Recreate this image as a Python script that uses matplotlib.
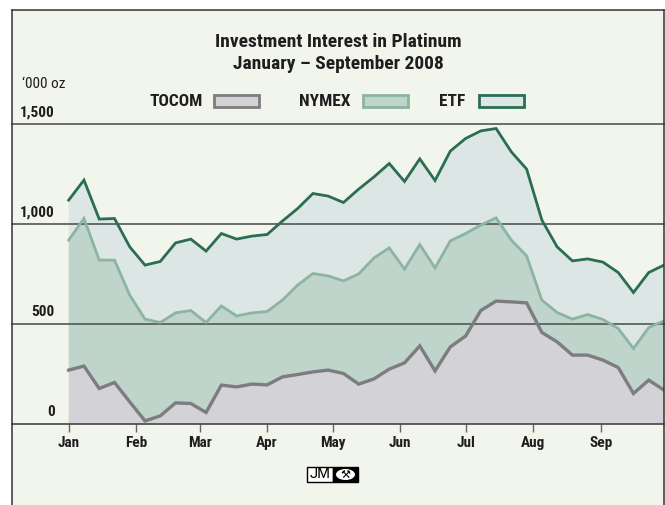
import matplotlib
matplotlib.use("Agg")
import matplotlib.pyplot as plt
import matplotlib.dates as mdates
from matplotlib import font_manager
from matplotlib.patches import Rectangle, Ellipse
from matplotlib.lines import Line2D
import numpy as np
import pandas as pd

# ---------------- data ('000 oz, weekly) ----------------
dates = pd.date_range("2008-01-01", periods=40, freq="7D")
tocom = [267, 287, 175, 205, 108, 13, 38, 103, 100, 55,
         192, 183, 197, 193, 233, 245, 258, 267, 250, 197,
         223, 272, 303, 388, 263, 383, 437, 565, 612, 608,
         603, 455, 408, 342, 342, 317, 280, 150, 217, 167]
nymex = [650, 738, 642, 612, 534, 509, 467, 450, 465, 450,
         396, 355, 356, 367, 384, 447, 492, 471, 463, 551,
         605, 606, 469, 507, 515, 530, 513, 427, 416, 309,
         235, 162, 147, 180, 203, 203, 195, 225, 263, 346]
etf = [200, 192, 205, 208, 241, 270, 305, 350, 357, 357,
       362, 384, 384, 385, 395, 383, 400, 399, 392, 424,
       405, 422, 438, 428, 437, 449, 475, 471, 447, 441,
       434, 400, 328, 291, 278, 287, 280, 280, 275, 279]
series_names = ["TOCOM", "NYMEX", "ETF"]
month_labels = ["Jan", "Feb", "Mar", "Apr", "May", "Jun", "Jul", "Aug", "Sep"]
y_ticks = [0, 500, 1000, 1500]
y_ticklabels = ["0", "500", "1,000", "1,500"]

# ---------------- style ----------------
avail = {f.name for f in font_manager.fontManager.ttflist}
FONT = "DejaVu Sans"
for cand in ["Roboto Condensed", "Archivo Narrow", "Fira Sans Condensed", "Barlow Semi Condensed",
             "PT Sans Narrow", "Liberation Sans Narrow", "Open Sans Condensed", "Asap Condensed"]:
    if cand in avail:
        FONT = cand
        break
plt.rcParams["font.family"] = [FONT, "DejaVu Sans"]

BG = "#f2f5ec"
fills = ["#d3d3d7", "#bfd4ca", "#dce7e5"]
lines = ["#7d7d7f", "#8cb4a2", "#2b6d54"]
lws = [2.4, 2.0, 2.0]
GRID = "#555555"
TXT = "#1e1e1e"

W, H = 665, 505
fig = plt.figure(figsize=(W / 100, H / 100), dpi=100)
fig.patch.set_facecolor("white")

def fx(px):
    return px / W

def fy(py):
    return 1 - py / H

# panel background and border
fig.patches.append(Rectangle((fx(12), 0), fx(664) - fx(12), fy(10), transform=fig.transFigure,
                             facecolor=BG, edgecolor="none", zorder=-10))
for (x0, y0, x1, y1) in [(12, 10, 664, 10), (12, 10, 12, 505), (664, 10, 664, 505)]:
    fig.lines.append(Line2D([fx(x0), fx(x1)], [fy(y0), fy(y1)], transform=fig.transFigure,
                            color="#333333", lw=1.1, zorder=5))

x_left, x_right, y0_px, y1500_px = 12, 664, 423.5, 123.5
ax = fig.add_axes([fx(x_left), fy(y0_px), fx(x_right) - fx(x_left), (y0_px - y1500_px) / H])
ax.set_facecolor("none")
ax.set_zorder(1)

xd = mdates.date2num(dates)
jan1 = mdates.date2num(pd.Timestamp("2008-01-01"))
px_per_day = (664 - 68.7) / 273.0
ax.set_xlim(jan1 - (68.7 - x_left) / px_per_day, jan1 + (x_right - 68.7) / px_per_day)
ax.set_ylim(0, 1500)

vals = [np.array(tocom), np.array(nymex), np.array(etf)]
cum = np.cumsum(vals, axis=0)
ax.stackplot(xd, *vals, colors=fills, linewidth=0, zorder=1)

# gridlines
for yv in y_ticks:
    ax.axhline(yv, color=GRID if yv else "#444444", lw=1.2, zorder=2, clip_on=False)

for i in range(3):
    ax.plot(xd, cum[i], color=lines[i], lw=lws[i], solid_joinstyle="miter", zorder=3)

for s in ax.spines.values():
    s.set_visible(False)

# y labels
ax.set_yticks([])
for yv, lab in zip(y_ticks, y_ticklabels):
    fig.text(fx(55), fy(y0_px - yv * 0.2 - 4), lab, ha="right", va="bottom",
             fontsize=11, fontweight="bold", color=TXT)
fig.text(fx(22), fy(84), "\u2018000 oz", ha="left", va="center", fontsize=11, color=TXT)

# x ticks
month_pos = [mdates.date2num(pd.Timestamp(2008, m, 1)) for m in range(1, 10)]
ax.set_xticks(month_pos)
ax.set_xticklabels(month_labels, fontsize=11, fontweight="bold", color=TXT)
ax.tick_params(axis="x", length=6, width=1.0, color="#666666", pad=3)

# title
fig.text(fx(338), fy(42), "Investment Interest in Platinum", ha="center", va="center",
         fontsize=14, fontweight="bold", color=TXT)
fig.text(fx(338), fy(64), "January \u2013 September 2008", ha="center", va="center",
         fontsize=14, fontweight="bold", color=TXT)

# legend
leg = [(203, 214), (350, 363), (465, 479)]
for i, (tx, px0) in enumerate(leg):
    fig.text(fx(tx), fy(101), series_names[i], ha="right", va="center", fontsize=12.5,
             fontweight="bold", color=TXT)
    fig.patches.append(Rectangle((fx(px0), fy(106.5)), fx(45), 11 / H, transform=fig.transFigure,
                                 facecolor=fills[i], edgecolor=lines[i], lw=2.0, zorder=3))

# logo
fig.patches.append(Rectangle((fx(307), fy(482)), fx(26), 15 / H, transform=fig.transFigure,
                             facecolor="white", edgecolor="black", lw=1.0, zorder=3))
fig.patches.append(Rectangle((fx(333), fy(482)), fx(25), 15 / H, transform=fig.transFigure,
                             facecolor="black", edgecolor="black", lw=1.0, zorder=3))
fig.text(fx(320), fy(474.5), "JM", ha="center", va="center", fontsize=10.5, color="black",
         family="Roboto", zorder=4)
fig.patches.append(Ellipse((fx(345.5), fy(474.5)), fx(19), 11 / H, transform=fig.transFigure,
                           facecolor="white", edgecolor="none", zorder=4))
fig.text(fx(345.5), fy(474.5), "\u2692", ha="center", va="center", fontsize=8, color="black",
         family="DejaVu Sans", zorder=5)

fig.savefig("out.png", dpi=100, facecolor=fig.get_facecolor())
